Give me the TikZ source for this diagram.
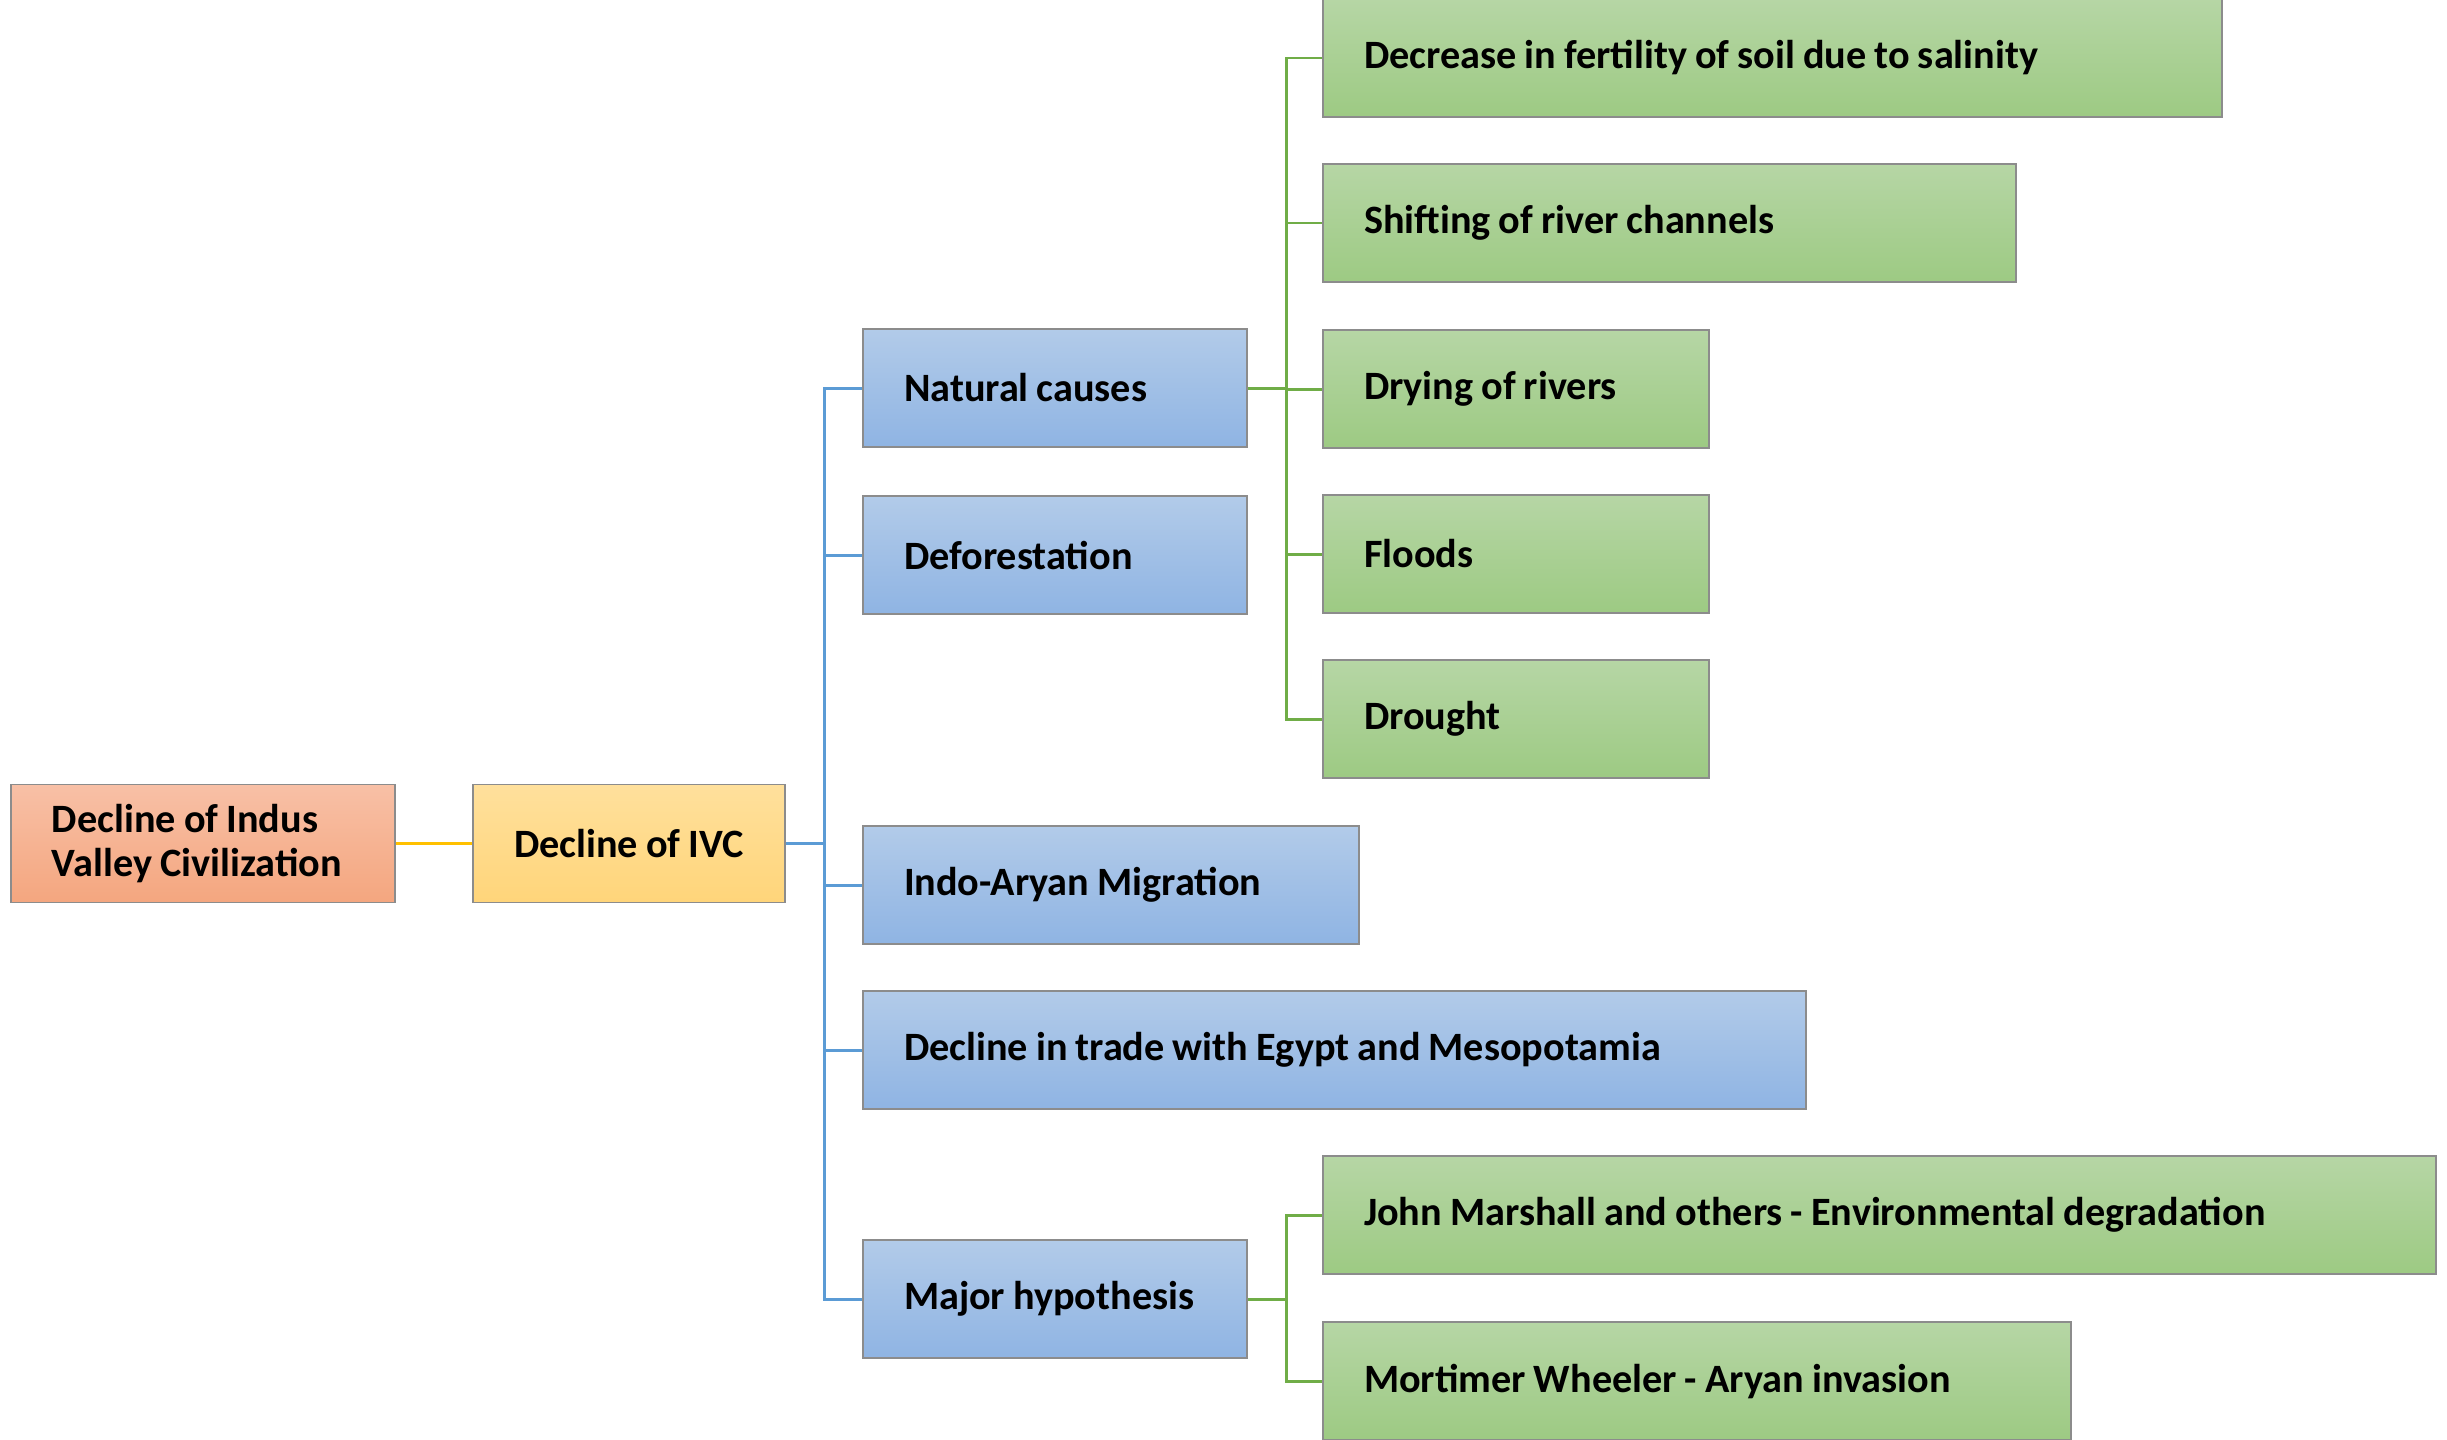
\documentclass[tikz,border=0pt]{standalone}
\usepackage{fontspec}
\setmainfont{Carlito}
\newcommand\tightspaces{\spaceskip=0.2em plus 0.04em minus 0.02em\relax}
\begin{document}
\begin{tikzpicture}[
  font=\fontsize{11.45}{12.4}\selectfont\bfseries,
  box/.style={draw=black!45, line width=0.5pt, rectangle, minimum height=1.18cm,
    inner xsep=0.41cm, inner ysep=0pt, align=left, anchor=center,
    execute at begin node=\tightspaces},
  rootbox/.style={box, top color=rootTop, bottom color=rootBot},
  ivcbox/.style={box, top color=ivcTop, bottom color=ivcBot},
  bluebox/.style={box, top color=blueTop, bottom color=blueBot},
  greenbox/.style={box, top color=greenTop, bottom color=greenBot},
  goldline/.style={draw=lineGold, line width=0.85pt},
  blueline/.style={draw=lineBlue, line width=0.85pt},
  greenline/.style={draw=lineGreen, line width=0.85pt},
]
\definecolor{rootTop}{RGB}{248,192,166}
\definecolor{rootBot}{RGB}{244,166,127}
\definecolor{ivcTop}{RGB}{255,224,156}
\definecolor{ivcBot}{RGB}{255,213,122}
\definecolor{blueTop}{RGB}{178,203,233}
\definecolor{blueBot}{RGB}{143,180,227}
\definecolor{greenTop}{RGB}{182,214,165}
\definecolor{greenBot}{RGB}{157,202,131}
\definecolor{lineGold}{RGB}{255,192,0}
\definecolor{lineBlue}{RGB}{91,155,213}
\definecolor{lineGreen}{RGB}{112,173,71}

\useasboundingbox[fill=white] (0,0) rectangle (24.47,-14.40);

% root and first level
\node[rootbox, text width=3.02cm, minimum width=3.84cm] (root) at (2.03,-8.435)
  {Decline of Indus\\Valley Civilization};
\node[ivcbox, text width=2.30cm, minimum width=3.12cm] (ivc) at (6.29,-8.435)
  {\mbox{Decline of IVC}};

% second level
\node[bluebox, text width=3.02cm, minimum width=3.84cm] (nat) at (10.55,-3.88) {Natural causes};
\node[bluebox, text width=3.02cm, minimum width=3.84cm] (defo) at (10.55,-5.55) {Deforestation};
\node[bluebox, text width=4.14cm, minimum width=4.96cm] (indo) at (11.11,-8.85) {Indo-Aryan Migration};
\node[bluebox, text width=8.61cm, minimum width=9.43cm] (trade) at (13.345,-10.50) {Decline in trade with Egypt and Mesopotamia};
\node[bluebox, text width=3.02cm, minimum width=3.84cm] (major) at (10.55,-12.99) {Major hypothesis};

% natural causes
\node[greenbox, text width=8.17cm, minimum width=8.99cm] (dec) at (17.725,-0.58) {Decrease in fertility of soil due to salinity};
\node[greenbox, text width=6.11cm, minimum width=6.93cm] (shift) at (16.695,-2.23) {Shifting of river channels};
\node[greenbox, text width=3.04cm, minimum width=3.86cm] (dry) at (15.16,-3.89) {Drying of rivers};
\node[greenbox, text width=3.04cm, minimum width=3.86cm] (flood) at (15.16,-5.54) {Floods};
\node[greenbox, text width=3.04cm, minimum width=3.86cm] (drought) at (15.16,-7.19) {Drought};

% hypotheses
\node[greenbox, text width=10.31cm, minimum width=11.13cm] (john) at (18.795,-12.15) {John Marshall and others - Environmental degradation};
\node[greenbox, text width=6.66cm, minimum width=7.48cm] (mort) at (16.97,-13.81) {Mortimer Wheeler - Aryan invasion};

% connectors
\coordinate (bt) at (8.24,-8.435);
\coordinate (gt) at (12.86,-3.88);
\coordinate (gt2) at (12.86,-12.99);

\draw[goldline] (root.east) -- (ivc.west);
\draw[blueline] (ivc.east) -- (bt);
\foreach \n in {nat,defo,indo,trade,major} \draw[blueline] (bt) |- (\n.west);
\draw[greenline] (nat.east) -- (gt);
\foreach \n in {dec,shift,dry,flood,drought} \draw[greenline] (gt) |- (\n.west);
\draw[greenline] (major.east) -- (gt2);
\foreach \n in {john,mort} \draw[greenline] (gt2) |- (\n.west);
\end{tikzpicture}
\end{document}
